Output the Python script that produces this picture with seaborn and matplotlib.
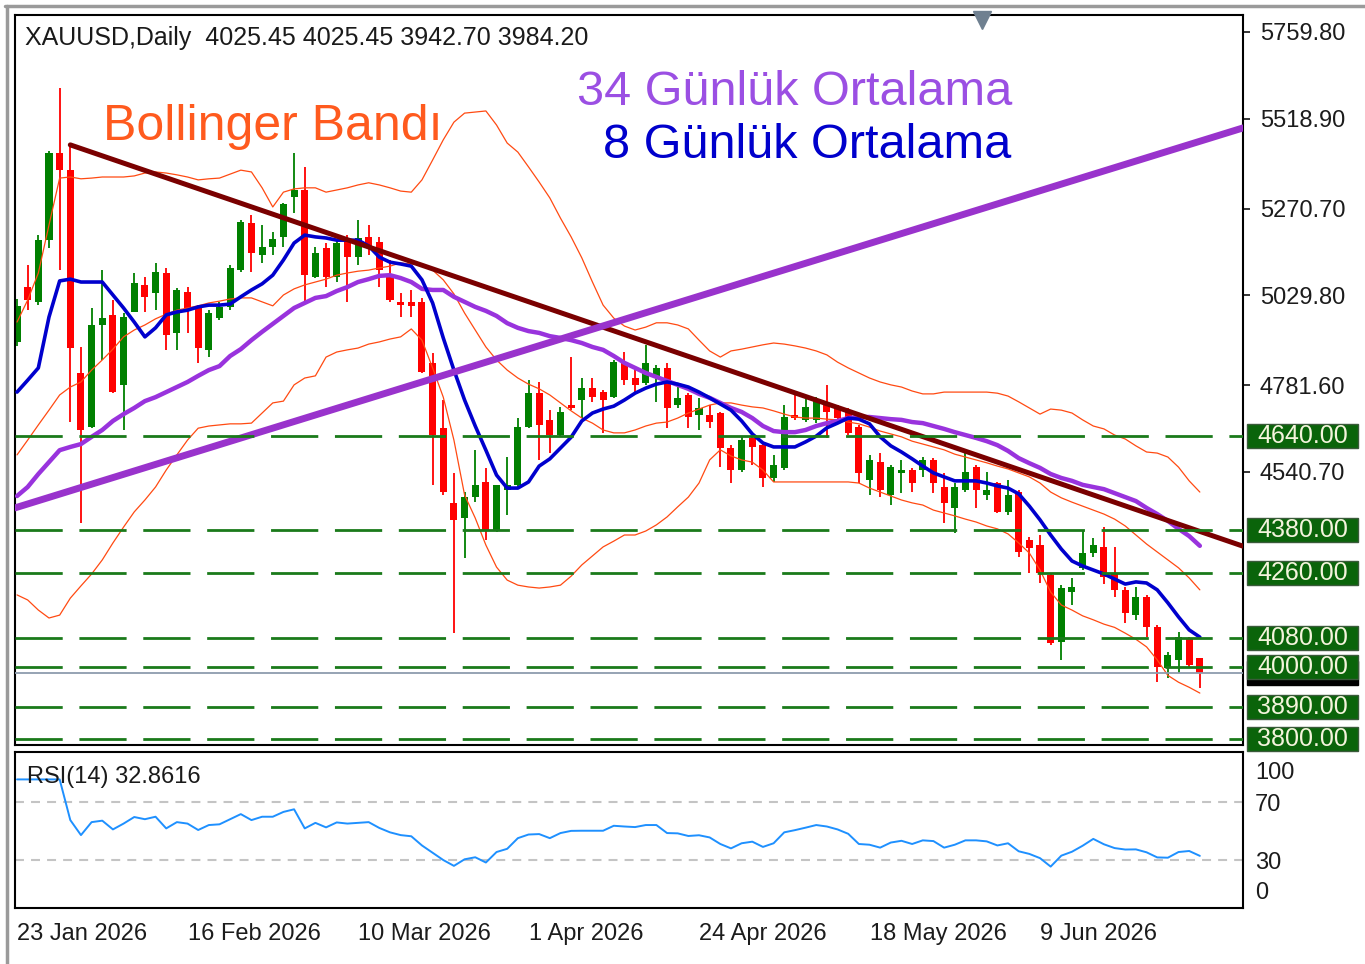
import numpy as np
import pandas as pd
import seaborn as sns
import matplotlib.pyplot as plt
from matplotlib.patches import Rectangle
from matplotlib.lines import Line2D

# XAUUSD daily bars, bar 0 = 23 Jan 2026
opens = [4900, 5053, 5012, 5183, 5424, 5377, 4815, 4665, 4948, 4976,
         4782, 4984, 5059, 5037, 5092, 4926, 5039, 4998, 4879, 4967,
         4998, 5100, 5231, 5142, 5164, 5192, 5303, 5322, 5081, 5161,
         5081, 5183, 5136, 5192, 5178, 5081, 5012, 5012, 5012, 4843,
         4662, 4455, 4413, 4471, 4513, 4380, 4491, 4504, 4665, 4759,
         4685, 4643, 4726, 4740, 4773, 4762, 4748, 4845, 4801, 4787,
         4801, 4829, 4726, 4754, 4698, 4698, 4704, 4607, 4546, 4635,
         4615, 4524, 4552, 4698, 4685, 4685, 4726, 4718, 4712, 4665,
         4518, 4568, 4477, 4538, 4546, 4546, 4574, 4499, 4441, 4491,
         4554, 4477, 4510, 4430, 4485, 4352, 4338, 4255, 4070, 4208,
         4274, 4316, 4333, 4261, 4214, 4144, 4194, 4111, 3997, 4020,
         4081, 4025.45]
highs = [5020, 5114, 5197, 5430, 5605, 5452, 4887, 4995, 5100, 5017,
         4981, 5092, 5081, 5120, 5106, 5050, 5053, 5003, 4989, 5012,
         5114, 5239, 5253, 5225, 5206, 5286, 5424, 5386, 5164, 5175,
         5183, 5197, 5239, 5225, 5192, 5128, 5037, 5045, 5023, 4870,
         4740, 4538, 4485, 4601, 4552, 4504, 4582, 4690, 4795, 4790,
         4712, 4721, 4859, 4801, 4801, 4768, 4851, 4873, 4829, 4892,
         4837, 4843, 4776, 4759, 4746, 4726, 4707, 4615, 4638, 4638,
         4621, 4588, 4726, 4762, 4748, 4748, 4782, 4726, 4718, 4671,
         4588, 4593, 4560, 4574, 4552, 4582, 4579, 4538, 4510, 4596,
         4560, 4541, 4513, 4518, 4491, 4360, 4366, 4261, 4227, 4247,
         4380, 4358, 4388, 4333, 4222, 4222, 4200, 4117, 4042, 4097,
         4083, 4025.45]
lows = [4890, 4989, 5003, 5161, 5100, 4679, 4399, 4662, 4851, 4759,
        4657, 4984, 4984, 4989, 4879, 4879, 4926, 4843, 4859, 4962,
        4989, 5095, 5095, 5120, 5142, 5164, 5258, 5012, 5078, 5053,
        5067, 5012, 5114, 5142, 5053, 5012, 4970, 4970, 4815, 4504,
        4477, 4094, 4302, 4457, 4352, 4374, 4421, 4499, 4662, 4574,
        4593, 4638, 4712, 4690, 4735, 4649, 4746, 4782, 4759, 4782,
        4735, 4662, 4718, 4662, 4657, 4662, 4554, 4510, 4541, 4560,
        4499, 4513, 4546, 4685, 4679, 4676, 4635, 4679, 4643, 4510,
        4477, 4471, 4449, 4482, 4485, 4527, 4482, 4399, 4372, 4485,
        4441, 4463, 4427, 4421, 4305, 4261, 4233, 4061, 4020, 4172,
        4269, 4305, 4230, 4194, 4122, 4130, 4083, 3959, 3970, 3984,
        4000, 3942.70]
closes = [5000, 5017, 5183, 5424, 5377, 4884, 4657, 4948, 4967, 4762,
          4970, 5064, 5026, 5095, 4920, 5045, 4989, 4884, 4981, 4998,
          5106, 5233, 5147, 5164, 5186, 5283, 5322, 5086, 5147, 5081,
          5175, 5136, 5189, 5161, 5100, 5017, 5003, 5000, 4818, 4643,
          4485, 4407, 4471, 4504, 4380, 4504, 4504, 4665, 4759, 4671,
          4643, 4707, 4718, 4773, 4748, 4740, 4845, 4795, 4782, 4843,
          4829, 4718, 4746, 4693, 4718, 4679, 4607, 4546, 4629, 4610,
          4524, 4560, 4693, 4690, 4721, 4740, 4707, 4690, 4649, 4538,
          4574, 4491, 4554, 4546, 4510, 4574, 4510, 4455, 4499, 4541,
          4491, 4491, 4430, 4477, 4319, 4330, 4261, 4067, 4219, 4222,
          4316, 4338, 4250, 4214, 4150, 4194, 4111, 4000, 4034, 4083,
          4006, 3984.20]

# indicator lines as drawn on the chart
sma8 = [4762, 4795, 4829, 4970, 5070, 5075, 5067, 5067, 5067, 5031,
        4995, 4956, 4915, 4940, 4976, 4984, 4989, 4998, 5003, 5003,
        5006, 5026, 5045, 5062, 5086, 5128, 5175, 5197, 5192, 5189,
        5183, 5183, 5183, 5167, 5136, 5122, 5117, 5111, 5073, 5009,
        4912, 4823, 4740, 4668, 4601, 4532, 4496, 4496, 4513, 4557,
        4577, 4607, 4637, 4682, 4704, 4715, 4723, 4740, 4759, 4773,
        4784, 4790, 4784, 4776, 4762, 4746, 4729, 4712, 4682, 4646,
        4621, 4610, 4610, 4610, 4624, 4640, 4663, 4676, 4690, 4687,
        4674, 4638, 4613, 4596, 4577, 4557, 4538, 4527, 4516, 4516,
        4516, 4510, 4502, 4496, 4480, 4446, 4408, 4366, 4327, 4294,
        4280, 4269, 4258, 4244, 4230, 4236, 4233, 4214, 4178, 4139,
        4103, 4083]
sma34 = [4474, 4499, 4535, 4568, 4601, 4610, 4618, 4638, 4657, 4682,
         4701, 4718, 4737, 4748, 4762, 4776, 4790, 4807, 4823, 4834,
         4862, 4881, 4906, 4929, 4951, 4973, 4995, 5009, 5023, 5028,
         5042, 5053, 5067, 5075, 5084, 5086, 5078, 5067, 5048, 5045,
         5045, 5026, 5012, 4998, 4987, 4973, 4953, 4940, 4931, 4926,
         4917, 4912, 4906, 4898, 4887, 4879, 4862, 4843, 4829, 4815,
         4804, 4793, 4782, 4771, 4757, 4746, 4732, 4718, 4707, 4690,
         4668, 4654, 4651, 4651, 4657, 4668, 4676, 4682, 4690, 4693,
         4693, 4690, 4687, 4685, 4679, 4676, 4668, 4660, 4651, 4643,
         4635, 4626, 4615, 4599, 4579, 4565, 4552, 4535, 4524, 4516,
         4505, 4499, 4493, 4482, 4471, 4460, 4441, 4424, 4405, 4383,
         4363, 4336]
bb_upper = [4956, 5017, 5092, 5225, 5355, 5358, 5353, 5355, 5358, 5358,
            5358, 5361, 5369, 5372, 5369, 5364, 5358, 5350, 5353, 5355,
            5366, 5377, 5372, 5328, 5275, 5316, 5325, 5328, 5328, 5316,
            5322, 5328, 5336, 5342, 5336, 5328, 5319, 5316, 5350, 5405,
            5461, 5510, 5535, 5538, 5541, 5502, 5452, 5427, 5386, 5344,
            5300, 5244, 5192, 5134, 5067, 5003, 4967, 4945, 4934, 4942,
            4954, 4954, 4948, 4937, 4906, 4876, 4859, 4876, 4881, 4887,
            4893, 4898, 4895, 4890, 4884, 4876, 4865, 4845, 4829, 4815,
            4801, 4790, 4782, 4776, 4765, 4757, 4757, 4762, 4762, 4762,
            4762, 4762, 4759, 4751, 4735, 4718, 4701, 4715, 4712, 4704,
            4685, 4668, 4660, 4643, 4632, 4613, 4596, 4593, 4582, 4554,
            4516, 4485]
bb_mid = [4588, 4629, 4671, 4712, 4754, 4776, 4790, 4823, 4851, 4881,
          4915, 4934, 4948, 4965, 4978, 4989, 4995, 5001, 5009, 5014,
          5020, 5023, 5023, 5012, 5001, 5031, 5048, 5059, 5067, 5075,
          5086, 5092, 5097, 5100, 5106, 5111, 5120, 5117, 5114, 5100,
          5073, 5034, 4981, 4934, 4887, 4851, 4823, 4801, 4784, 4771,
          4754, 4732, 4710, 4690, 4676, 4657, 4649, 4649, 4657, 4668,
          4676, 4679, 4690, 4704, 4715, 4726, 4732, 4732, 4726, 4721,
          4718, 4710, 4701, 4693, 4690, 4690, 4687, 4685, 4679, 4674,
          4665, 4654, 4646, 4638, 4626, 4618, 4610, 4602, 4590, 4582,
          4574, 4566, 4557, 4549, 4538, 4527, 4510, 4485, 4469, 4457,
          4446, 4435, 4424, 4410, 4391, 4366, 4341, 4319, 4297, 4275,
          4247, 4214]
bb_lower = [4200, 4186, 4158, 4136, 4144, 4191, 4225, 4258, 4297, 4344,
            4388, 4430, 4463, 4499, 4546, 4588, 4629, 4662, 4668, 4671,
            4674, 4674, 4676, 4704, 4732, 4737, 4782, 4801, 4807, 4859,
            4873, 4879, 4884, 4895, 4901, 4909, 4915, 4937, 4906, 4829,
            4748, 4629, 4477, 4413, 4338, 4277, 4241, 4227, 4222, 4219,
            4222, 4227, 4252, 4283, 4308, 4333, 4349, 4366, 4366, 4377,
            4394, 4416, 4444, 4471, 4510, 4574, 4602, 4585, 4574, 4568,
            4546, 4513, 4513, 4513, 4513, 4513, 4513, 4513, 4513, 4510,
            4496, 4485, 4474, 4463, 4455, 4449, 4435, 4427, 4419, 4410,
            4402, 4391, 4383, 4369, 4344, 4316, 4269, 4208, 4172, 4158,
            4142, 4131, 4119, 4110, 4094, 4077, 4056, 4020, 3977, 3958,
            3944, 3928]
rsi = [85.3, 85.3, 85.3, 85.3, 85.3, 57.4, 47.1, 56.0, 57.0, 51.0,
       55.0, 59.5, 58.0, 59.7, 51.7, 56.0, 55.0, 50.6, 54.0, 54.5,
       58.0, 61.5, 57.4, 59.7, 59.7, 63.0, 64.8, 51.7, 55.5, 52.4,
       55.8, 55.0, 55.5, 56.0, 52.0, 49.0, 47.1, 46.3, 40.0, 35.0,
       30.0, 26.0, 30.5, 31.9, 28.3, 35.5, 37.7, 45.0, 47.5, 47.8,
       45.0, 48.5, 50.0, 50.1, 50.1, 50.1, 53.5, 53.0, 52.6, 54.0,
       54.0, 48.5, 48.3, 46.5, 47.0, 45.5, 41.0, 38.0, 41.5, 42.6,
       39.0, 41.5, 49.0, 50.5, 52.2, 54.0, 53.0, 51.0, 48.0, 41.0,
       40.5, 38.5, 42.0, 43.2, 41.0, 43.5, 43.0, 38.5, 40.5, 43.5,
       43.5, 42.8, 40.0, 41.5, 36.0, 34.2, 31.3, 25.5, 33.0, 35.7,
       39.8, 44.5, 40.8, 38.2, 37.2, 37.3, 35.3, 31.8, 31.6, 35.5,
       36.2, 32.86]

# trend lines (bar, price) end points
down_trend_x = [5, 115.05]
down_trend_y = [5447, 4335]
up_trend_x = [-0.2, 115.05]
up_trend_y = [4441, 5494]

levels = [4640, 4380, 4260, 4080, 4000, 3890, 3800]
bid = 3984.20
price_ticks = [5759.80, 5518.90, 5270.70, 5029.80, 4781.60, 4540.70]
date_bars = [0, 16, 32, 48, 64, 80, 96]
date_labels = ["23 Jan 2026", "16 Feb 2026", "10 Mar 2026", "1 Apr 2026",
               "24 Apr 2026", "18 May 2026", "9 Jun 2026"]

sns.set_style("white")
plt.rcParams['font.family'] = ['Liberation Sans', 'DejaVu Sans']
TXT = 17

W, H = 1365, 964
fig = plt.figure(figsize=(W / 100, H / 100), dpi=100)
ax = fig.add_axes([15 / W, 1 - 745 / H, 1228 / W, 730 / H])
rax = fig.add_axes([15 / W, 1 - 908 / H, 1228 / W, 156 / H])

bars = np.arange(len(closes))
o, h, l, c = (np.array(v, dtype=float) for v in (opens, highs, lows, closes))
colors = np.where(c >= o, '#008000', '#ff0000')

# candles
ax.vlines(bars, l, h, colors=colors, lw=1.3, zorder=2)
ax.bar(bars, np.maximum(np.abs(c - o), 4), bottom=np.minimum(o, c),
       width=0.66, color=colors, linewidth=0, zorder=2)

# bollinger bands + moving averages
for band in (bb_upper, bb_mid, bb_lower):
    sns.lineplot(x=bars, y=band, ax=ax, color='#ff4a12', linewidth=0.9, zorder=3)
sns.lineplot(x=bars, y=sma34, ax=ax, color='#9933dd', linewidth=3.2, zorder=4)
sns.lineplot(x=bars, y=sma8, ax=ax, color='#0000cd', linewidth=2.6, zorder=5)

# trend lines
sns.lineplot(x=down_trend_x, y=down_trend_y, ax=ax, color='#7a0000', linewidth=3.6, zorder=6)
sns.lineplot(x=up_trend_x, y=up_trend_y, ax=ax, color='#9933cc', linewidth=5, zorder=6)

# horizontal levels
for lv in levels:
    ax.axhline(lv, color='#1a7a1a', lw=2, dashes=(17, 6), zorder=6)
ax.axhline(bid, color='#8d9cae', lw=1.3, zorder=5)

ax.set_xlim(-0.19, 115.05)
ax.set_ylim(3784.1, 5806.9)
ax.set_xticks([])
ax.yaxis.tick_right()
ax.set_yticks(price_ticks)
ax.set_yticklabels([f"{v:.2f}" for v in price_ticks])
ax.tick_params(axis='y', length=5, width=1.3, pad=7, labelsize=TXT, labelcolor='#1c1c1c')
for s in ax.spines.values():
    s.set_color('black')
    s.set_linewidth(1.5)

# price boxes on the right scale
ytr = ax.get_yaxis_transform()
ax.add_patch(Rectangle((1.0033, bid - 33), 0.0904, 66, transform=ytr,
                       fc='black', ec='black', clip_on=False, zorder=7))
for lv in levels:
    ax.add_patch(Rectangle((1.0033, lv - 33), 0.0904, 66, transform=ytr,
                           fc='#0a640a', ec='#3a5a3a', lw=1, clip_on=False, zorder=8))
    ax.text(1.0485, lv, f"{lv:.2f}", transform=ytr, ha='center', va='center',
            fontsize=18, color='#f4f4dc', zorder=9, clip_on=False)

ax.plot(0.7875, 0.993, marker='v', ms=13, color='#6f8090', transform=ax.transAxes,
        clip_on=False, zorder=9)

# titles / annotations
fig.text(25 / W, 1 - 45 / H, "XAUUSD,Daily  4025.45 4025.45 3942.70 3984.20",
         fontsize=18, color='#1a1a1a', va='baseline')
fig.text(103 / W, 1 - 140 / H, "Bollinger Bandı", fontsize=36, color='#ff5a1e', va='baseline')
fig.text(577 / W, 1 - 105 / H, "34 Günlük Ortalama", fontsize=35, color='#9b4fe3', va='baseline')
fig.text(603 / W, 1 - 158 / H, "8 Günlük Ortalama", fontsize=35, color='#0000cc', va='baseline')

# RSI panel
sns.lineplot(x=bars, y=rsi, ax=rax, color='#1e90ff', linewidth=1.4, zorder=3)
for lv in (70, 30):
    rax.axhline(lv, color='#c4c4c4', lw=1.5, dashes=(4.3, 3.4), zorder=2)
rax.set_xlim(-0.19, 115.05)
rax.set_ylim(-2.9, 104.1)
rax.set_yticks([])
rax.set_xticks(date_bars)
rax.set_xticklabels(date_labels, ha='left')
rax.tick_params(axis='x', length=6, width=1.3, pad=5, labelsize=TXT, labelcolor='#1c1c1c')
for s in rax.spines.values():
    s.set_color('black')
    s.set_linewidth(1.5)
rtr = rax.get_yaxis_transform()
for txt, v in (("100", 89.8), ("70", 67.8), ("30", 28), ("0", 7.4)):
    rax.text(1.0098, v, txt, transform=rtr, ha='left', va='center', fontsize=TXT, color='#1c1c1c')
rax.text(12 / 1228, 87, "RSI(14) 32.8616", transform=rtr,
         fontsize=TXT, color='#1a1a1a', va='center')

# window frame
fig.add_artist(Line2D([5 / W, 1], [1 - 6 / H, 1 - 6 / H], color='#9a9a9a', lw=2.5))
fig.add_artist(Line2D([7 / W, 7 / W], [0, 1 - 6 / H], color='#9a9a9a', lw=2.5))

fig.savefig("out.png", dpi=100)
